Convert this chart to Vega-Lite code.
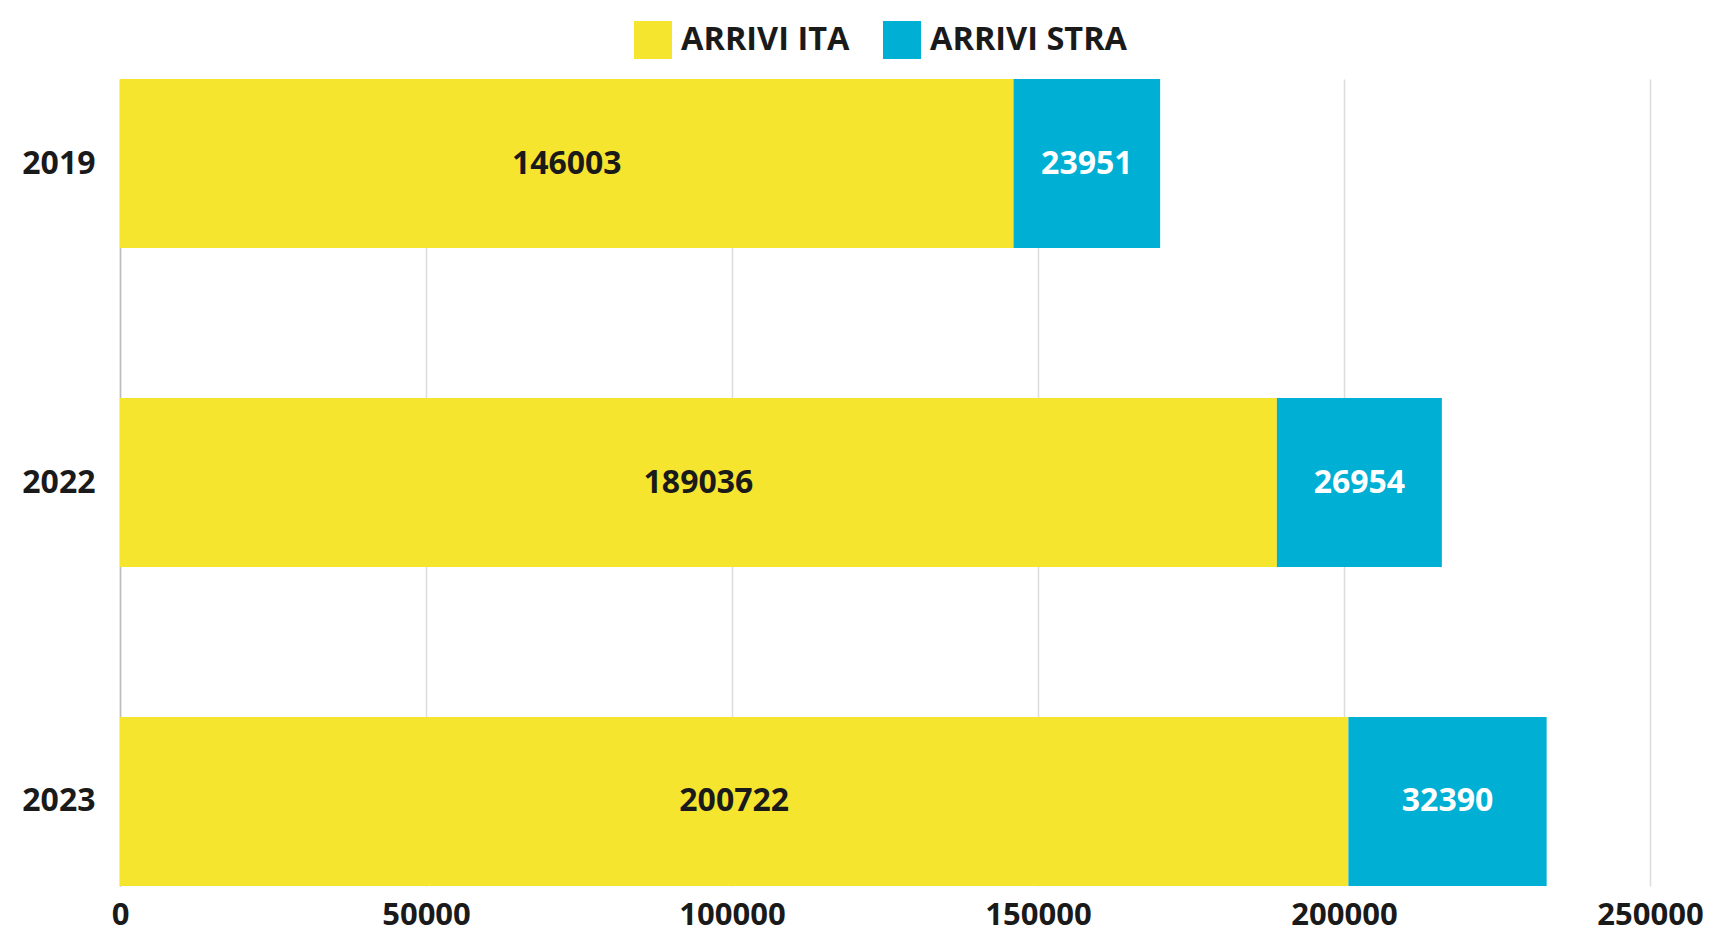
{
  "$schema": "https://vega.github.io/schema/vega-lite/v6.json",
  "autosize": "none",
  "width": 1530,
  "height": 807,
  "padding": {"left": 120, "top": 79, "right": 60, "bottom": 43},
  "background": "white",
  "config": {
    "font": "Open Sans",
    "view": {"stroke": null}
  },
  "data": {
    "values": [
      {"anno": "2019", "serie": "ARRIVI ITA", "valore": 146003},
      {"anno": "2019", "serie": "ARRIVI STRA", "valore": 23951},
      {"anno": "2022", "serie": "ARRIVI ITA", "valore": 189036},
      {"anno": "2022", "serie": "ARRIVI STRA", "valore": 26954},
      {"anno": "2023", "serie": "ARRIVI ITA", "valore": 200722},
      {"anno": "2023", "serie": "ARRIVI STRA", "valore": 32390}
    ]
  },
  "transform": [
    {"stack": "valore", "groupby": ["anno"], "sort": [{"field": "serie", "order": "ascending"}], "as": ["v0", "v1"]},
    {"calculate": "(datum.v0 + datum.v1) / 2", "as": "vmid"}
  ],
  "encoding": {
    "y": {
      "field": "anno",
      "type": "nominal",
      "sort": ["2019", "2022", "2023"],
      "scale": {"paddingInner": 0.47, "paddingOuter": 0},
      "axis": {
        "title": null,
        "ticks": false,
        "domain": true,
        "domainColor": "#bdbdbd",
        "domainWidth": 1.5,
        "labelFont": "Open Sans",
        "labelFontWeight": "bold",
        "labelFontSize": 32,
        "labelColor": "#1a1a1a",
        "labelPadding": 25
      }
    }
  },
  "layer": [
    {
      "mark": {"type": "bar"},
      "encoding": {
        "x": {
          "field": "v0",
          "type": "quantitative",
          "scale": {"domain": [0, 250000], "nice": false},
          "axis": {
            "title": null,
            "values": [0, 50000, 100000, 150000, 200000, 250000],
            "format": "d",
            "ticks": false,
            "domain": false,
            "grid": true,
            "gridColor": "#dcdcdc",
            "gridWidth": 1.5,
            "labelFont": "Open Sans",
            "labelFontWeight": "bold",
            "labelFontSize": 31,
            "labelColor": "#1a1a1a",
            "labelPadding": 14,
            "labelFlush": false
          }
        },
        "x2": {"field": "v1"},
        "color": {
          "field": "serie",
          "type": "nominal",
          "scale": {"domain": ["ARRIVI ITA", "ARRIVI STRA"], "range": ["#F6E52F", "#00AFD4"]},
          "legend": {
            "title": null,
            "orient": "none",
            "direction": "horizontal",
            "legendX": 514,
            "legendY": -58,
            "symbolType": "square",
            "symbolSize": 1444,
            "symbolStrokeWidth": 0,
            "symbolOpacity": 1,
            "labelFont": "Open Sans",
            "labelFontWeight": "bold",
            "labelFontSize": 32.5,
            "labelColor": "#1a1a1a",
            "labelOffset": 9,
            "columnPadding": 33,
            "labelLimit": 400
          }
        }
      }
    },
    {
      "mark": {"type": "text", "fontSize": 32, "fontWeight": "bold", "font": "Open Sans", "baseline": "middle", "align": "center"},
      "encoding": {
        "x": {"field": "vmid", "type": "quantitative"},
        "text": {"field": "valore", "type": "quantitative", "format": "d"},
        "color": {
          "condition": {"test": "datum.serie === 'ARRIVI STRA'", "value": "#ffffff"},
          "value": "#1a1a1a"
        }
      }
    }
  ]
}
